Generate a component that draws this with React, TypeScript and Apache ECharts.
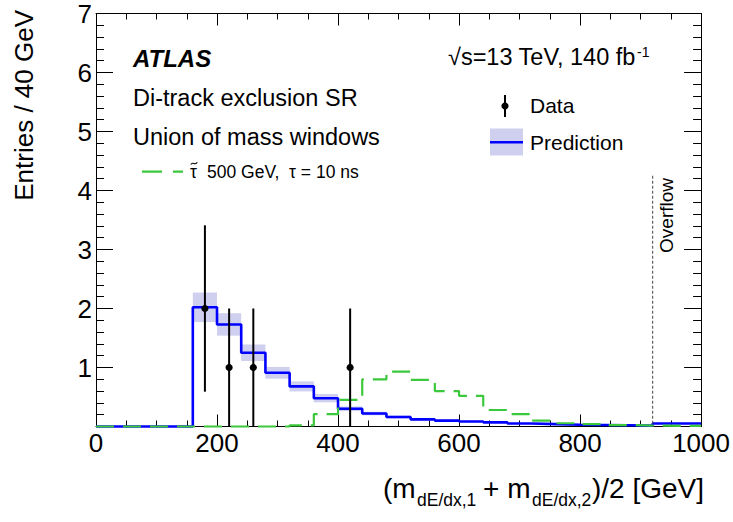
import React, { useEffect, useRef } from "react";
import * as echarts from "echarts";

// ---- data ----
// bin edges in GeV (last bin 920-1000 is the overflow bin)
const binEdges = [0, 40, 80, 120, 160, 200, 240, 280, 320, 360, 400, 440, 480, 520, 560, 600, 640, 680, 720, 760, 800, 840, 880, 920, 1000];
// background prediction (entries / 40 GeV)
const prediction = [0, 0, 0, 0, 2.02, 1.73, 1.25, 0.91, 0.68, 0.48, 0.3, 0.22, 0.16, 0.12, 0.1, 0.085, 0.07, 0.05, 0.04, 0.03, 0.025, 0.02, 0.015, 0.05];
// prediction uncertainty (half band height)
const predictionUnc = [0, 0, 0, 0, 0.25, 0.19, 0.14, 0.1, 0.085, 0.07, 0.04, 0.03, 0.025, 0.02, 0.015, 0.012, 0.01, 0.008, 0.007, 0.006, 0.005, 0.004, 0.003, 0.01];
// signal: stau 500 GeV, tau = 10 ns
const signal = [0, 0, 0, 0, 0, 0, 0, 0, 0.02, 0.21, 0.45, 0.8, 0.93, 0.79, 0.6, 0.52, 0.28, 0.21, 0.1, 0.055, 0.04, 0.025, 0.015, 0.01];
// observed data
const dataCounts = [0, 0, 0, 0, 2, 1, 1, 0, 0, 0, 1, 0, 0, 0, 0, 0, 0, 0, 0, 0, 0, 0, 0, 0];
const dataErr = [0, 0, 0, 0, 1.41, 1, 1, 0, 0, 0, 1, 0, 0, 0, 0, 0, 0, 0, 0, 0, 0, 0, 0, 0];
const overflowStart = [920];
const overflowLineTop = [4.25];

const FONT = '"Liberation Sans", Arial, Helvetica, sans-serif';
const BLUE = "#0000ff";
const GREEN = "#3cc83c";
const BAND = "#cfcfef";

function stepLine(values: number[]) {
  const pts: number[][] = [];
  values.forEach((v, i) => {
    pts.push([binEdges[i], v], [binEdges[i + 1], v]);
  });
  return pts;
}

export default function App() {
  const ref = useRef<HTMLDivElement>(null);

  useEffect(() => {
    const chart = echarts.init(ref.current!, null, { renderer: "svg" });

    const bandData = prediction
      .map((v, i) => [binEdges[i], binEdges[i + 1], v - predictionUnc[i], v + predictionUnc[i]])
      .filter((_, i) => predictionUnc[i] > 0);
    const pointData = dataCounts
      .map((n, i) => [(binEdges[i] + binEdges[i + 1]) / 2, n, dataErr[i]])
      .filter((d) => d[1] > 0);
    const overflowData = overflowStart.map((x, i) => [x, overflowLineTop[i]]);

    const axisLine = { show: true, onZero: false, lineStyle: { color: "#000", width: 1 } };

    const xBase = {
      type: "value",
      min: 0,
      max: 1000,
      interval: 200,
      axisLine,
      axisTick: { show: true, inside: true, length: 12, lineStyle: { color: "#000", width: 1 } },
      minorTick: { show: true, splitNumber: 4, length: 6, lineStyle: { color: "#000", width: 1 } },
      splitLine: { show: false },
    };
    const yBase = {
      type: "value",
      min: 0,
      max: 7,
      interval: 1,
      axisLine,
      axisTick: { show: true, inside: true, length: 17, lineStyle: { color: "#000", width: 1 } },
      minorTick: { show: true, splitNumber: 5, length: 8, lineStyle: { color: "#000", width: 1 } },
      splitLine: { show: false },
    };

    const textStyle = (size: number, extra: any = {}) => ({
      fontFamily: FONT,
      fontSize: size,
      fill: "#000",
      align: "left",
      verticalAlign: "middle",
      ...extra,
    });

    chart.setOption({
      animation: false,
      backgroundColor: "#fff",
      grid: { left: 96, right: 30, top: 13, bottom: 95.5, containLabel: false },
      xAxis: [
        {
          ...xBase,
          position: "bottom",
          axisLabel: {
            show: true,
            color: "#000",
            fontFamily: FONT,
            fontSize: 26,
            margin: 3,
            formatter: (v: number) => String(v),
          },
        },
        { ...xBase, position: "top", axisLabel: { show: false } },
      ],
      yAxis: [
        {
          ...yBase,
          position: "left",
          axisLabel: {
            show: true,
            color: "#000",
            fontFamily: FONT,
            fontSize: 26,
            lineHeight: 22,
            padding: [5, 0, 0, 0],
            margin: 4,
            formatter: (v: number) => (v === 0 ? "" : String(v)),
          },
        },
        { ...yBase, position: "right", axisLabel: { show: false } },
      ],
      series: [
        {
          type: "custom",
          name: "band",
          coordinateSystem: "cartesian2d",
          data: bandData,
          encode: { x: [0, 1], y: [2, 3] },
          z: 1,
          renderItem: (_p: any, api: any) => {
            const a = api.coord([api.value(0), api.value(3)]);
            const b = api.coord([api.value(1), api.value(2)]);
            return {
              type: "rect",
              shape: { x: a[0], y: a[1], width: b[0] - a[0], height: b[1] - a[1] },
              style: { fill: BAND },
            };
          },
        },
        {
          type: "line",
          name: "Prediction",
          data: stepLine(prediction),
          symbol: "none",
          clip: false,
          z: 2,
          lineStyle: { color: BLUE, width: 2.6 },
        },
        {
          type: "line",
          name: "Signal",
          data: stepLine(signal),
          symbol: "none",
          clip: false,
          z: 3,
          lineStyle: { color: GREEN, width: 2.2, type: [18, 9] },
        },
        {
          type: "custom",
          name: "Data",
          coordinateSystem: "cartesian2d",
          data: pointData,
          encode: { x: 0, y: 1 },
          z: 5,
          renderItem: (_p: any, api: any) => {
            const c = api.value(0);
            const n = api.value(1);
            const e = api.value(2);
            const top = api.coord([c, n + e]);
            const bot = api.coord([c, Math.max(0, n - e)]);
            const p = api.coord([c, n]);
            return {
              type: "group",
              children: [
                { type: "line", shape: { x1: top[0], y1: top[1], x2: bot[0], y2: bot[1] }, style: { stroke: "#000", lineWidth: 2 } },
                { type: "circle", shape: { cx: p[0], cy: p[1], r: 3.6 }, style: { fill: "#000" } },
              ],
            };
          },
        },
        {
          type: "custom",
          name: "Overflow",
          coordinateSystem: "cartesian2d",
          data: overflowData,
          encode: { x: 0, y: 1 },
          z: 4,
          renderItem: (_p: any, api: any) => {
            const t = api.coord([api.value(0), api.value(1)]);
            const b = api.coord([api.value(0), 0]);
            return {
              type: "line",
              shape: { x1: t[0], y1: t[1], x2: b[0], y2: b[1] },
              style: { stroke: "#444", lineWidth: 1, lineDash: [3, 2] },
            };
          },
        },
      ],
      graphic: [
        { type: "text", x: 133, y: 58.4, style: { text: "ATLAS", ...textStyle(24, { fontWeight: "bold", fontStyle: "italic" }) } },
        { type: "text", x: 133, y: 97.9, style: { text: "Di-track exclusion SR", ...textStyle(23.5) } },
        { type: "text", x: 133, y: 136.9, style: { text: "Union of mass windows", ...textStyle(23.5) } },
        { type: "text", x: 448, y: 56.9, style: { text: "\u221As=13 TeV, 140 fb", ...textStyle(23.5) } },
        { type: "text", x: 637, y: 51.5, style: { text: "-1", ...textStyle(14) } },
        // signal legend
        { type: "line", shape: { x1: 142, y1: 171.7, x2: 183, y2: 171.7 }, style: { stroke: GREEN, lineWidth: 2.2, lineDash: [20, 11] } },
        { type: "text", x: 190, y: 171.5, style: { text: "\u03C4", ...textStyle(17.5) } },
        {
          type: "bezierCurve",
          shape: { x1: 190.8, y1: 164.6, cpx1: 193, cpy1: 160.6, cpx2: 195, cpy2: 166.4, x2: 197.3, y2: 162.3 },
          style: { stroke: "#000", lineWidth: 1.1, fill: null },
        },
        { type: "text", x: 207, y: 171.5, style: { text: "500 GeV,  \u03C4 = 10 ns", ...textStyle(17.5) } },
        // data legend
        { type: "line", shape: { x1: 505, y1: 95, x2: 505, y2: 117 }, style: { stroke: "#000", lineWidth: 2 } },
        { type: "circle", shape: { cx: 505, cy: 106, r: 3.6 }, style: { fill: "#000" } },
        { type: "text", x: 530, y: 105.7, style: { text: "Data", ...textStyle(21) } },
        // prediction legend
        { type: "rect", shape: { x: 490, y: 128.5, width: 33, height: 27 }, style: { fill: BAND } },
        { type: "line", shape: { x1: 490, y1: 142.3, x2: 523, y2: 142.3 }, style: { stroke: BLUE, lineWidth: 2.6 } },
        { type: "text", x: 530, y: 142.7, style: { text: "Prediction", ...textStyle(21) } },
        // overflow label
        { type: "text", x: 666.5, y: 178, rotation: Math.PI / 2, style: { text: "Overflow", ...textStyle(19, { align: "right" }) } },
        // y axis title
        { type: "text", x: 24, y: 10, rotation: Math.PI / 2, style: { text: "Entries / 40 GeV", ...textStyle(26, { align: "right" }) } },
        // x axis title
        { type: "text", x: 383, y: 488.6, style: { text: "(m", ...textStyle(28) } },
        { type: "text", x: 417, y: 500, style: { text: "dE/dx,1", ...textStyle(17.5) } },
        { type: "text", x: 483, y: 488.6, style: { text: "+ m", ...textStyle(28) } },
        { type: "text", x: 532, y: 500, style: { text: "dE/dx,2", ...textStyle(17.5) } },
        { type: "text", x: 704, y: 488.6, style: { text: ")/2 [GeV]", ...textStyle(28, { align: "right" }) } },
      ],
    });

    return () => chart.dispose();
  }, []);

  return (
    <div
      ref={ref}
      style={{ position: "fixed", left: 0, top: 0, width: 733, height: 522, background: "#fff" }}
    />
  );
}
